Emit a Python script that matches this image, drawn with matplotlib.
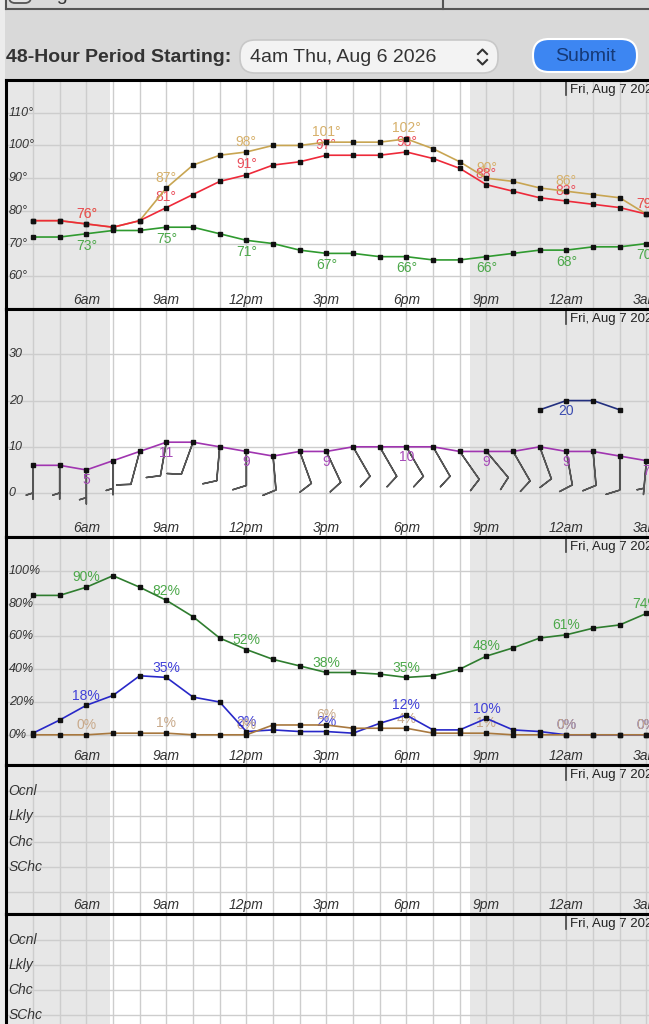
import numpy as np
import matplotlib
matplotlib.use("Agg")
import matplotlib.pyplot as plt
from matplotlib.patches import FancyBboxPatch, Rectangle

plt.rcParams['font.family'] = ['Liberation Sans', 'DejaVu Sans']

# ---------------- data ----------------
hour_labels = ["4am", "5am", "6am", "7am", "8am", "9am", "10am", "11am", "12pm", "1pm",
               "2pm", "3pm", "4pm", "5pm", "6pm", "7pm", "8pm", "9pm", "10pm", "11pm",
               "12am", "1am", "2am", "3am"]
axis_labels = ["6am", "9am", "12pm", "3pm", "6pm", "9pm", "12am", "3am"]

heat_index = [77, 77, 76, 75, 77, 87, 94, 97, 98, 100, 100, 101, 101, 101, 102, 99, 95, 90,
              89, 87, 86, 85, 84, 79]
temperature = [77, 77, 76, 75, 77, 81, 85, 89, 91, 94, 95, 97, 97, 97, 98, 96, 93, 88,
               86, 84, 83, 82, 81, 79]
dewpoint = [72, 72, 73, 74, 74, 75, 75, 73, 71, 70, 68, 67, 67, 66, 66, 65, 65, 66,
            67, 68, 68, 69, 69, 70]

wind_speed = [6, 6, 5, 7, 9, 11, 11, 10, 9, 8, 9, 9, 10, 10, 10, 10, 9, 9, 9, 10, 9, 9, 8, 7]
wind_dir = [180, 180, 180, 180, 195, 190, 200, 185, 180, 175, 160, 155, 150, 150, 150, 150,
            145, 140, 150, 160, 170, 175, 180, 185]
wind_gust = [np.nan] * 19 + [18, 20, 20, 18, np.nan]

humidity = [85, 85, 90, 97, 90, 82, 72, 59, 52, 46, 42, 38, 38, 37, 35, 36, 40, 48,
            53, 59, 61, 65, 67, 74]
sky_cover = [1, 9, 18, 24, 36, 35, 23, 20, 2, 3, 2, 2, 1, 7, 12, 3, 3, 10, 3, 2, 0, 0, 0, 0]
precip_chance = [0, 0, 0, 1, 1, 1, 0, 0, 0, 6, 6, 6, 4, 4, 4, 1, 1, 1, 0, 0, 0, 0, 0, 0]

temp_ticks = [60, 70, 80, 90, 100, 110]
wind_ticks = [0, 10, 20, 30]
pct_ticks = [0, 20, 40, 60, 80, 100]
chance_labels = ["SChc", "Chc", "Lkly", "Ocnl"]
date_label = "Fri, Aug 7 2026"

# ---------------- layout ----------------
W, H = 649, 1024
fig = plt.figure(figsize=(W / 100, H / 100), dpi=100, facecolor='#d9d9d9')


def frect(x0, y0, x1, y1):
    return [x0 / W, 1 - y1 / H, (x1 - x0) / W, (y1 - y0) / H]


# background / header
bg = fig.add_axes([0, 0, 1, 1], zorder=-5)
bg.set_xlim(0, W)
bg.set_ylim(H, 0)
bg.axis('off')
bg.add_patch(Rectangle((0, 0), 5, H, fc='#ececec', ec='none'))
bg.plot([6, W], [9, 9], color='#555555', lw=1.5)
bg.plot([6, 6], [0, 9], color='#555555', lw=1.5)
bg.plot([443, 443], [0, 9], color='#555555', lw=1.5)
bg.add_patch(FancyBboxPatch((9, -14), 22, 17, boxstyle="round,pad=0,rounding_size=6",
                            fc='#e4e4e4', ec='#555555', lw=1.3))
bg.text(34, 0.5, "Fog", fontsize=14, color='#333333', va='baseline', ha='left')
bg.text(6, 57, "48-Hour Period Starting:", fontsize=14, fontweight='bold', color='#333333',
        ha='left', va='center')
bg.add_patch(FancyBboxPatch((240, 40), 258, 33, boxstyle="round,pad=0,rounding_size=15",
                            fc='#f3f3f3', ec='#c8c8c8', lw=1.2))
bg.text(250, 57, "4am Thu, Aug 6 2026", fontsize=14, color='#333333', ha='left', va='center')
bg.plot([478, 482.5, 487], [54, 49.5, 54], color='#333333', lw=1.5)
bg.plot([478, 482.5, 487], [60, 64.5, 60], color='#333333', lw=1.5)
bg.add_patch(FancyBboxPatch((533, 39), 104, 33, boxstyle="round,pad=0,rounding_size=16",
                            fc='#3d86f2', ec='white', lw=1.5))
bg.text(585, 56.5, "Submit", fontsize=14, color='#163a78', ha='center', va='center')

XL, XR = 6, W + 3
PX_PER_H = 26.67
x = np.arange(len(hour_labels))
lab_idx = [hour_labels.index(l) for l in axis_labels]
x_left = -(33 - XL) / PX_PER_H
x_right = x_left + (XR - XL) / PX_PER_H

panels = [(80, 309), (309, 537), (537, 765), (765, 914), (914, 1062)]
ylims = [(50, 120), (-9.5, 39.8), (-18.4, 120.6), (-0.88, 5.04), (-0.88, 5.04)]
axes = []
for (y0, y1), yl in zip(panels, ylims):
    ax = fig.add_axes(frect(XL, y0, XR, y1), zorder=1)
    ax.set_facecolor('white')
    ax.axvspan(-3, 2.9, color='#e7e7e7', zorder=0, lw=0)
    ax.axvspan(16.4, 30, color='#e7e7e7', zorder=0, lw=0)
    ax.set_xticks(np.arange(-1, 25))
    ax.set_xlim(x_left, x_right)
    ax.set_ylim(*yl)
    ax.set_axisbelow(True)
    ax.grid(True, color='#cdcdcd', lw=1.0)
    ax.tick_params(length=0, labelbottom=False, labelleft=False)
    for s in ['left', 'top', 'bottom']:
        ax.spines[s].set_linewidth(2.2)
        ax.spines[s].set_color('black')
    ax.spines['right'].set_visible(False)
    h_px = y1 - y0
    ax.axvline(20, ymin=1 - 15 / h_px, ymax=1, color='#444444', lw=1.2)
    ax.annotate(date_label, xy=(20, 1), xycoords=('data', 'axes fraction'),
                xytext=(2.5, -3), textcoords='offset points', ha='left', va='top',
                fontsize=9.5, color='#222222')
    for i, l in zip(lab_idx, axis_labels):
        ax.annotate(l, xy=(x[i], 0), xycoords=('data', 'axes fraction'),
                    xytext=(0, 6.5), textcoords='offset points', ha='center',
                    va='center', fontsize=10, style='italic', color='#333333')
    axes.append(ax)


def ylabels(ax, ticks, labels):
    ax.set_yticks(ticks)
    for t, l in zip(ticks, labels):
        ax.text(0.004, t, l, transform=ax.get_yaxis_transform(), ha='left', va='center',
                fontsize=9, style='italic', color='#333333', zorder=6)


def series(ax, y, color, lw=1.2):
    ax.plot(x, y, color=color, lw=lw, zorder=4, marker='s', ms=3.4, mfc='#111111',
            mec='#111111')


def vlabels(ax, y, fmt, color, dy):
    for i in lab_idx:
        if np.isnan(y[i]):
            continue
        ax.annotate(fmt.format(int(y[i])), xy=(x[i], y[i]), xytext=(0, dy),
                    textcoords='offset points', ha='center', va='center', color=color,
                    fontsize=10, zorder=3)


# panel 1: temperatures
a1 = axes[0]
ylabels(a1, temp_ticks, [f"{t}°" for t in temp_ticks])
series(a1, dewpoint, '#2f9a2f')
series(a1, heat_index, '#c8a552')
series(a1, temperature, '#ee2a3a')
vlabels(a1, np.array(heat_index, float), "{}°", '#d6b06a', 7.5)
vlabels(a1, np.array(temperature, float), "{}°", '#ea4f5c', 7.5)
vlabels(a1, np.array(dewpoint, float), "{}°", '#4ca84a', -8.5)

# panel 2: wind
a2 = axes[1]
ylabels(a2, wind_ticks, [str(t) for t in wind_ticks])
ws = np.array(wind_speed, float)
wd = np.radians(np.array(wind_dir, float))
u = -ws * np.sin(wd)
v = -ws * np.cos(wd)
a2.barbs(x, ws, u, v, length=7, color='#555555', linewidth=1.1, zorder=3)
series(a2, wind_speed, '#a035b0')
series(a2, wind_gust, '#23307f')
vlabels(a2, ws, "{}", '#a648b8', -7.5)
vlabels(a2, np.array(wind_gust, float), "{}", '#3b4cb0', -7.5)

# panel 3: humidity, sky cover, precipitation
a3 = axes[2]
ylabels(a3, pct_ticks, [f"{t}%" for t in pct_ticks])
series(a3, humidity, '#2f7d2f')
series(a3, sky_cover, '#2828c8')
series(a3, precip_chance, '#a8783e')
vlabels(a3, np.array(humidity, float), "{}%", '#4ca84a', 7)
vlabels(a3, np.array(sky_cover, float), "{}%", '#4040d8', 7)
vlabels(a3, np.array(precip_chance, float), "{}%", '#c8a98a', 7)

# panels 4 & 5: chance categories
for ax in axes[3:]:
    ax.set_yticks([0, 1, 2, 3, 4])
    for t, l in zip([1, 2, 3, 4], chance_labels):
        ax.text(0.004, t, l, transform=ax.get_yaxis_transform(), ha='left', va='center',
                fontsize=10, style='italic', color='#333333', zorder=6)

fig.savefig("out.png", dpi=100, facecolor=fig.get_facecolor())
